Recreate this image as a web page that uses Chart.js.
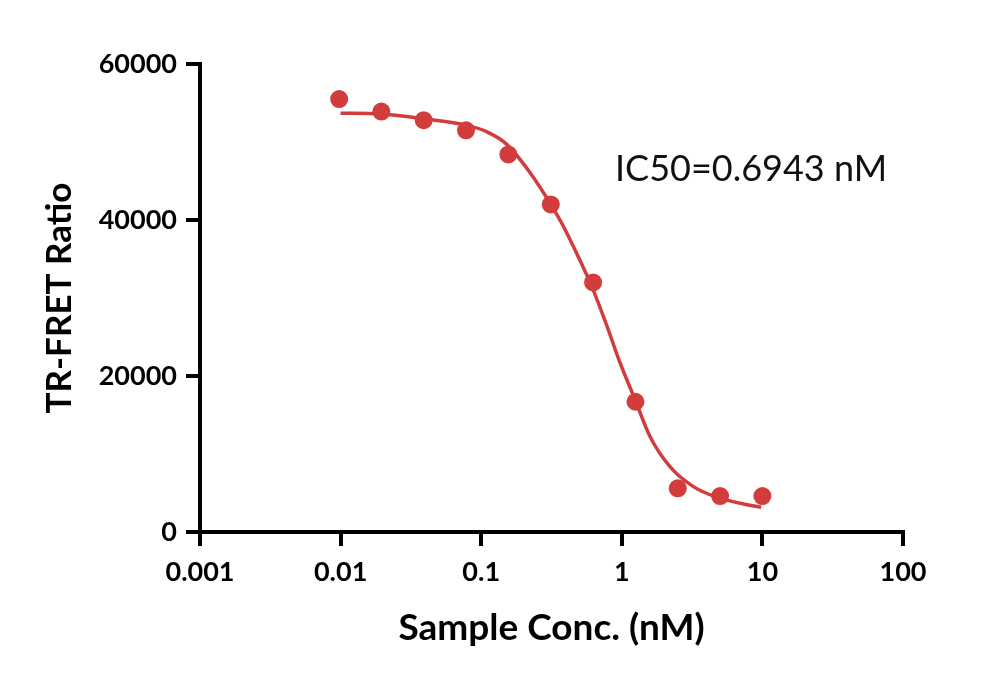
<!DOCTYPE html>
<html>
<head>
<meta charset="utf-8">
<script src="https://cdn.jsdelivr.net/npm/chart.js@4"></script>
<style>
  html, body { margin: 0; padding: 0; background: #ffffff; }
  #wrap { width: 1000px; height: 681px; }
</style>
</head>
<body>
<div id="wrap"><canvas id="c" width="1000" height="681"></canvas></div>
<script>
// ---- data ----
const concentrations = [0.00977, 0.0195, 0.039, 0.078, 0.156, 0.3125, 0.625, 1.25, 2.5, 5, 10];
const ratioValues    = [55500, 53900, 52800, 51500, 48400, 42000, 32000, 16700, 5600, 4600, 4600];

// fitted curve, sampled along the drawn line
const curveX = [0.01, 0.0196, 0.0384, 0.0767, 0.11, 0.152, 0.222, 0.308, 0.384, 0.478, 0.611, 0.781, 0.971, 1.241, 1.587, 2.20, 3.23, 4.73, 6.93, 9.8];
const curveY = [53700, 53600, 53000, 52200, 51300, 49700, 46100, 42200, 39200, 35700, 31500, 26500, 21700, 17000, 12250, 8390, 5820, 4460, 3690, 3170];

const xTickValues = [0.001, 0.01, 0.1, 1, 10, 100];
const xTickLabels = ['0.001', '0.01', '0.1', '1', '10', '100'];
const yTickValues = [0, 20000, 40000, 60000];
const yTickLabels = ['0', '20000', '40000', '60000'];

const annotationText = 'IC50=0.6943 nM';
const annotationAt = { x: 0.895, y: 46500 };

const RED = '#d23c3c';
const FONT = 'Lato';

const annotationPlugin = {
  id: 'ic50label',
  afterDatasetsDraw(chart) {
    const { ctx, scales } = chart;
    const px = scales.x.getPixelForValue(annotationAt.x);
    const py = scales.y.getPixelForValue(annotationAt.y);
    ctx.save();
    ctx.font = '36px ' + FONT;
    ctx.fillStyle = '#111111';
    ctx.textAlign = 'left';
    ctx.textBaseline = 'middle';
    ctx.fillText(annotationText, px, py);
    ctx.restore();
  }
};

new Chart(document.getElementById('c'), {
  type: 'scatter',
  data: {
    datasets: [
      {
        label: 'fit',
        data: curveX.map((x, i) => ({ x, y: curveY[i] })),
        showLine: true,
        borderColor: RED,
        borderWidth: 3.5,
        pointRadius: 0,
        fill: false,
        cubicInterpolationMode: 'monotone',
        order: 2
      },
      {
        label: 'data',
        data: concentrations.map((x, i) => ({ x, y: ratioValues[i] })),
        showLine: false,
        pointRadius: 9,
        pointHoverRadius: 9,
        backgroundColor: RED,
        borderWidth: 0,
        order: 1
      }
    ]
  },
  options: {
    responsive: false,
    animation: false,
    devicePixelRatio: 1,
    layout: { padding: { left: 20, top: 64, right: 97, bottom: 20 } },
    plugins: { legend: { display: false }, tooltip: { enabled: false } },
    scales: {
      x: {
        type: 'logarithmic',
        min: 0.001,
        max: 100,
        afterBuildTicks(scale) { scale.ticks = xTickValues.map(v => ({ value: v })); },
        afterFit(scale) { scale.height = 661 - 532; },
        ticks: {
          autoSkip: false,
          maxRotation: 0,
          padding: 10,
          color: '#000',
          font: { family: FONT, size: 27, weight: 'bold' },
          callback(value) {
            const i = xTickValues.indexOf(value);
            return i >= 0 ? xTickLabels[i] : '';
          }
        },
        grid: { drawOnChartArea: false, drawTicks: true, tickLength: 14, lineWidth: 4, color: '#000' },
        border: { display: true, width: 4, color: '#000' },
        title: {
          display: true,
          text: 'Sample Conc. (nM)',
          color: '#000',
          font: { family: FONT, size: 37, weight: 'bold' },
          padding: { top: 0, bottom: 11 }
        }
      },
      y: {
        type: 'linear',
        min: 0,
        max: 60000,
        afterBuildTicks(scale) { scale.ticks = yTickValues.map(v => ({ value: v })); },
        afterFit(scale) { scale.width = 200 - 20; },
        ticks: {
          padding: 9,
          color: '#000',
          font: { family: FONT, size: 27, weight: 'bold' },
          callback(value) {
            const i = yTickValues.indexOf(value);
            return i >= 0 ? yTickLabels[i] : '';
          }
        },
        grid: { drawOnChartArea: false, drawTicks: true, tickLength: 14, lineWidth: 4, color: '#000' },
        border: { display: true, width: 4, color: '#000' },
        title: {
          display: true,
          text: 'TR-FRET Ratio',
          color: '#000',
          font: { family: FONT, size: 35, weight: 'bold' },
          padding: { top: 19, bottom: 0 }
        }
      }
    }
  },
  plugins: [annotationPlugin]
});
</script>
</body>
</html>
